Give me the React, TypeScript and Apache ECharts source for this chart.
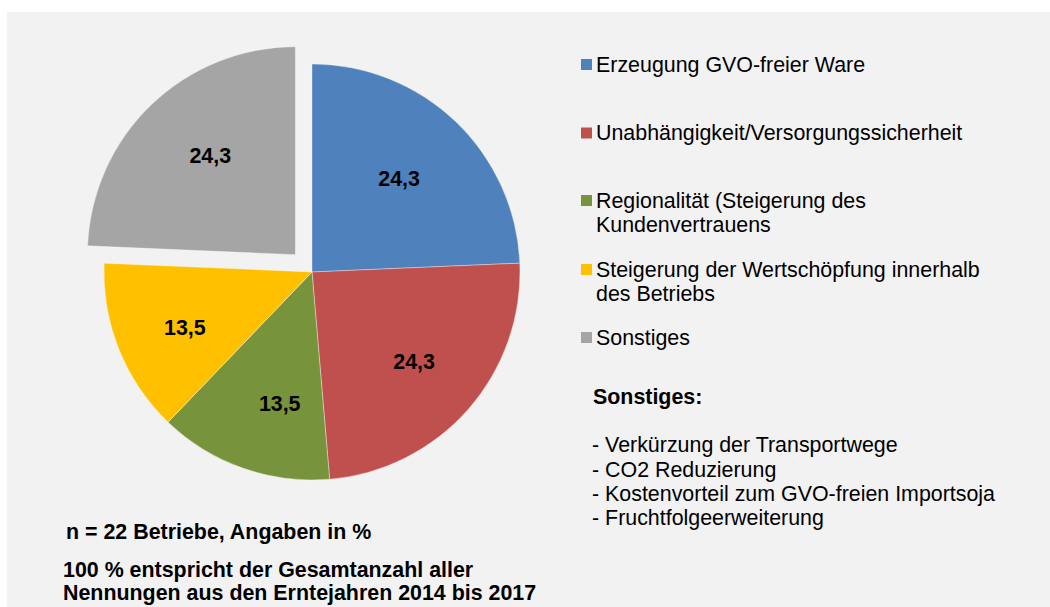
import React, { useEffect, useRef } from "react";
import * as echarts from "echarts";

// ---- data ----
const categories: string[] = [
  "Erzeugung GVO-freier Ware",
  "Unabhängigkeit/Versorgungssicherheit",
  "Regionalität (Steigerung des\nKundenvertrauens",
  "Steigerung der Wertschöpfung innerhalb\ndes Betriebs",
  "Sonstiges",
];
const values: number[] = [24.3, 24.3, 13.5, 13.5, 24.3];
const explodedIndex = 4;
const sonstigesTitle = "Sonstiges:";
const sonstigesItems: string[] = [
  "- Verkürzung der Transportwege",
  "- CO2 Reduzierung",
  "- Kostenvorteil zum GVO-freien Importsoja",
  "- Fruchtfolgeerweiterung",
];
const noteN = "n = 22 Betriebe, Angaben in %";
const noteTotal: string[] = [
  "100 % entspricht der Gesamtanzahl aller",
  "Nennungen aus den Erntejahren 2014 bis 2017",
];

// ---- styles / layout ----
const colors = ["#4f81bd", "#c0504d", "#77933c", "#ffc000", "#a5a5a5"];
const labelOffsets = [[-7, 5], [0, 0], [13, 4], [-1, 5], [9, 0]];
const FONT = '"Liberation Sans", Arial, sans-serif';
const FS = 21.4;
const legendCenters = [64.5, 133, 200.5, 269.5, 337.5];

export default function App() {
  const ref = useRef<HTMLDivElement>(null);

  useEffect(() => {
    if (!ref.current) return;
    const chart = echarts.init(ref.current, undefined, { renderer: "svg" });

    const pieData = categories.map((name, i) => ({
      name,
      value: values[i],
      selected: i === explodedIndex,
      itemStyle: { color: colors[i] },
      select: { itemStyle: { color: colors[i] } },
    }));
    const labelData = categories.map((name, i) => ({
      name,
      value: values[i],
      selected: i === explodedIndex,
      label: { offset: labelOffsets[i] },
      select: { label: { offset: labelOffsets[i] } },
    }));

    const graphics: any[] = [];
    const LH = 24.5;
    categories.forEach((name, i) => {
      const c = legendCenters[i];
      graphics.push({
        type: "rect",
        shape: { x: 581, y: c - 5.5, width: 11, height: 11 },
        style: { fill: colors[i] },
      });
      graphics.push({
        type: "text",
        x: 596,
        y: c - LH / 2,
        style: {
          text: name,
          fill: "#000",
          fontSize: FS,
          fontFamily: FONT,
          lineHeight: LH,
          align: "left",
          verticalAlign: "top",
        },
      });
    });
    graphics.push({
      type: "text",
      x: 593,
      y: 397,
      style: {
        text: sonstigesTitle,
        fill: "#000",
        fontSize: FS,
        fontWeight: "bold",
        fontFamily: FONT,
        align: "left",
        verticalAlign: "middle",
      },
    });
    const LH2 = 24.2;
    graphics.push({
      type: "text",
      x: 592,
      y: 445.5 - LH2 / 2,
      style: {
        text: sonstigesItems.join("\n"),
        fill: "#000",
        fontSize: FS,
        fontFamily: FONT,
        lineHeight: LH2,
        align: "left",
        verticalAlign: "top",
      },
    });
    graphics.push({
      type: "text",
      x: 66,
      y: 532,
      style: {
        text: noteN,
        fill: "#000",
        fontSize: FS,
        fontWeight: "bold",
        fontFamily: FONT,
        align: "left",
        verticalAlign: "middle",
      },
    });
    const LH3 = 23.4;
    graphics.push({
      type: "text",
      x: 63,
      y: 570 - LH3 / 2,
      style: {
        text: noteTotal.join("\n"),
        fill: "#000",
        fontSize: FS,
        fontWeight: "bold",
        fontFamily: FONT,
        lineHeight: LH3,
        align: "left",
        verticalAlign: "top",
      },
    });

    chart.setOption({
      animation: false,
      backgroundColor: "transparent",
      graphic: graphics,
      series: [
        {
          type: "pie",
          center: [312, 272],
          radius: [0, 208],
          startAngle: 90,
          clockwise: true,
          selectedMode: "single",
          selectedOffset: 24,
          avoidLabelOverlap: false,
          label: { show: false },
          labelLine: { show: false },
          emphasis: { disabled: true },
          itemStyle: { borderColor: "rgba(255,255,255,0.6)", borderWidth: 0.6 },
          data: pieData,
          z: 2,
        },
        {
          type: "pie",
          center: [312, 272],
          radius: [58, 208],
          startAngle: 90,
          clockwise: true,
          selectedMode: "single",
          selectedOffset: 24,
          silent: true,
          avoidLabelOverlap: false,
          itemStyle: { color: "rgba(0,0,0,0)" },
          select: { itemStyle: { color: "rgba(0,0,0,0)" } },
          label: {
            show: true,
            position: "inside",
            color: "#000",
            fontSize: FS,
            fontWeight: "bold",
            fontFamily: FONT,
            formatter: (p: any) => Number(p.value).toFixed(1).replace(".", ","),
          },
          labelLine: { show: false },
          emphasis: { disabled: true },
          data: labelData,
          z: 3,
        },
      ],
    });

    return () => chart.dispose();
  }, []);

  return (
    <div style={{ position: "fixed", left: 0, top: 0, width: 1050, height: 607, background: "#ffffff" }}>
      <div style={{ position: "absolute", left: 7, top: 12, right: 0, bottom: 0, background: "#f2f2f2" }} />
      <div ref={ref} style={{ position: "absolute", left: 0, top: 0, width: 1050, height: 607 }} />
    </div>
  );
}
